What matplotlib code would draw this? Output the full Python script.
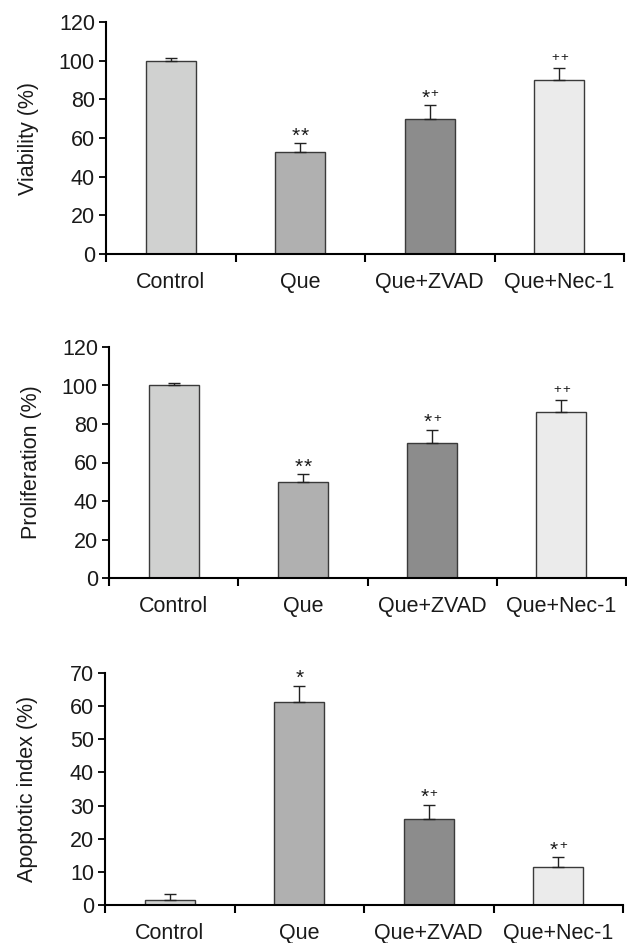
import matplotlib
matplotlib.use("Agg")
import matplotlib.pyplot as plt
import numpy as np

plt.rcParams['font.family'] = ['Liberation Sans', 'DejaVu Sans']

categories = ["Control", "Que", "Que+ZVAD", "Que+Nec-1"]
bar_colors = ["#d0d1d0", "#b0b0b0", "#8c8c8c", "#ebebeb"]

viability = [100, 53, 70, 90]
viability_err = [1.5, 4.2, 7, 6]
viability_marks = ["", "**", "*+", "++"]

proliferation = [100, 50, 70, 86]
proliferation_err = [1.5, 4, 7, 6.3]
proliferation_marks = ["", "**", "*+", "++"]

apoptotic = [1.6, 61.3, 26, 11.6]
apoptotic_err = [1.7, 4.8, 4.2, 2.8]
apoptotic_marks = ["", "*", "*+", "*+"]

panels = [
    dict(vals=viability, err=viability_err, marks=viability_marks,
         ylabel="Viability (%)", ymax=120, step=20,
         rect=[106/627, 1-254/943, 518/627, 232/943]),
    dict(vals=proliferation, err=proliferation_err, marks=proliferation_marks,
         ylabel="Proliferation (%)", ymax=120, step=20,
         rect=[109/627, 1-578/943, 517/627, 231/943]),
    dict(vals=apoptotic, err=apoptotic_err, marks=apoptotic_marks,
         ylabel="Apoptotic index (%)", ymax=70, step=10,
         rect=[105/627, 1-905/943, 518/627, 232/943]),
]

fig = plt.figure(figsize=(6.27, 9.43), dpi=100)
x = np.arange(len(categories))
fs = 15.5

for p in panels:
    ax = fig.add_axes(p["rect"])
    ax.bar(x, p["vals"], width=0.386, color=bar_colors, edgecolor="#3a3a3a",
           linewidth=1.0, zorder=2)
    ax.errorbar(x, p["vals"], yerr=[np.zeros(len(x)), p["err"]], fmt="none",
                ecolor="#222222", elinewidth=1.0, capsize=4, capthick=1.0, zorder=3)
    ax.set_xlim(-0.5, 3.5)
    ax.set_ylim(0, p["ymax"])
    ax.set_yticks(np.arange(0, p["ymax"] + 1, p["step"]))
    ax.set_xticks(x)
    ax.set_xticklabels(categories)
    ax.set_xticks(np.arange(-0.5, 3.6, 1.0), minor=True)
    ax.tick_params(axis="x", which="major", length=0, pad=13, labelsize=fs, colors="#1a1a1a")
    ax.tick_params(axis="x", which="minor", length=6, width=1.5, direction="out", color="black")
    ax.tick_params(axis="y", length=5, width=1.3, direction="out", labelsize=fs, pad=3, colors="black",
                   labelcolor="#1a1a1a")
    for s in ["top", "right"]:
        ax.spines[s].set_visible(False)
    for s in ["left", "bottom"]:
        ax.spines[s].set_linewidth(1.5)
        ax.spines[s].set_color("black")
    ax.set_ylabel(p["ylabel"], fontsize=fs, color="#1a1a1a", va="center")
    ax.yaxis.set_label_coords(-0.149, 0.5)

    # significance marks
    for i, m in enumerate(p["marks"]):
        if not m:
            continue
        top = p["vals"][i] + p["err"][i]
        n = len(m)
        offs = [0.0] if n == 1 else [-3.2, 3.2]
        for ch, dx in zip(m, offs):
            if ch == "*":
                ax.annotate("*", (i, top), xytext=(dx, 1.2), textcoords="offset points",
                            ha="center", va="baseline", fontsize=15, color="#1a1a1a")
            else:
                ax.annotate("+", (i, top), xytext=(dx + 0.3, 5.6), textcoords="offset points",
                            ha="center", va="baseline", fontsize=9.5, color="#1a1a1a")

fig.savefig("out.png", dpi=100)
